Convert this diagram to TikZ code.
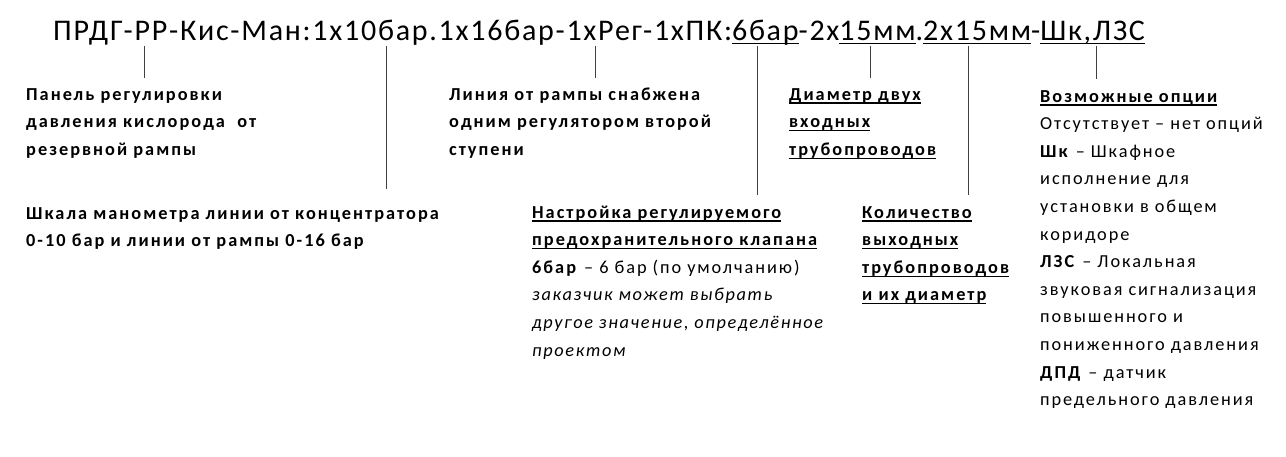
\documentclass[tikz,border=0pt]{standalone}
\usepackage{fontspec}
\setmainfont{Carlito}[LetterSpace=10.5,BoldFeatures={LetterSpace=11},ItalicFeatures={LetterSpace=9}]
\newfontfamily\titlefont{Carlito}[LetterSpace=5.8]
\newcommand\tul[1]{\setbox0\hbox{#1}\rlap{\rule[-4.4pt]{\wd0}{1.4pt}}\box0}
\newcommand\bul[1]{\setbox0\hbox{#1}\rlap{\rule[-3.6pt]{\wd0}{1.2pt}}\box0}
\newcommand\lin[1]{\hbox{#1}}
\newcommand\bodyfont{\fontsize{18.3}{27.6}\selectfont}
\begin{document}
\begin{tikzpicture}[x=1pt,y=-1pt,
  lbl/.style={anchor=base west, inner sep=0pt, font=\bodyfont},
  conn/.style={draw=black!75, line width=0.9pt}]
\useasboundingbox (0,0) rectangle (1286,456);
\node[anchor=base west, inner sep=0pt, font=\titlefont\fontsize{30}{36}\selectfont] (title) at (53,40)
  {ПРДГ-РР-Кис-Ман:1х10бар.1х16бар-1хРег-1хПК:\tul{6бар}-2х\tul{15мм}.\tul{2х15мм}-\tul{Шк,ЛЗС}};

\node[lbl] (a) at (26,100) {\vtop{\bfseries
  \lin{Панель регулировки}
  \lin{давления кислорода\ \ от}
  \lin{резервной рампы}}};
\node[lbl] (b) at (26,219) {\vtop{\bfseries
  \lin{Шкала манометра линии от концентратора}
  \lin{0-10 бар и линии от рампы 0-16 бар}}};
\node[lbl] (c) at (449,100) {\vtop{\bfseries
  \lin{Линия от рампы снабжена}
  \lin{одним регулятором второй}
  \lin{ступени}}};
\node[lbl] (d) at (789,100) {\vtop{\bfseries
  \lin{\bul{Диаметр двух}}
  \lin{\bul{входных}}
  \lin{\bul{трубопроводов}}}};
\node[lbl] (e) at (532,218) {\vtop{
  \lin{\bfseries\bul{Настройка регулируемого}}
  \lin{\bfseries\bul{предохранительного клапана}}
  \lin{\textbf{6бар} – 6 бар (по умолчанию)}
  \lin{\itshape заказчик может выбрать}
  \lin{\itshape другое значение, определённое}
  \lin{\itshape проектом}}};
\node[lbl] (f) at (862,218) {\vtop{\bfseries
  \lin{\bul{Количество}}
  \lin{\bul{выходных}}
  \lin{\bul{трубопроводов}}
  \lin{\bul{и их диаметр}}}};
\node[lbl] (g) at (1040,102) {\vtop{
  \lin{\bfseries\bul{Возможные опции}}
  \lin{Отсутствует – нет опций}
  \lin{\textbf{Шк} – Шкафное}
  \lin{исполнение для}
  \lin{установки в общем}
  \lin{коридоре}
  \lin{\textbf{ЛЗС} – Локальная}
  \lin{звуковая сигнализация}
  \lin{повышенного и}
  \lin{пониженного давления}
  \lin{\textbf{ДПД} – датчик}
  \lin{предельного давления}}};

\coordinate (t1) at (144,46); \coordinate (b1) at (144,78);
\coordinate (t2) at (386,46); \coordinate (b2) at (386,189);
\coordinate (t3) at (595,46); \coordinate (b3) at (595,78);
\coordinate (t4) at (757,46); \coordinate (b4) at (757,195);
\coordinate (t5) at (870,46); \coordinate (b5) at (870,78);
\coordinate (t6) at (968,46); \coordinate (b6) at (968,195);
\coordinate (t7) at (1096,46); \coordinate (b7) at (1096,79);
\foreach \i in {1,...,7} \draw[conn] (t\i) -- (b\i);
\end{tikzpicture}
\end{document}
